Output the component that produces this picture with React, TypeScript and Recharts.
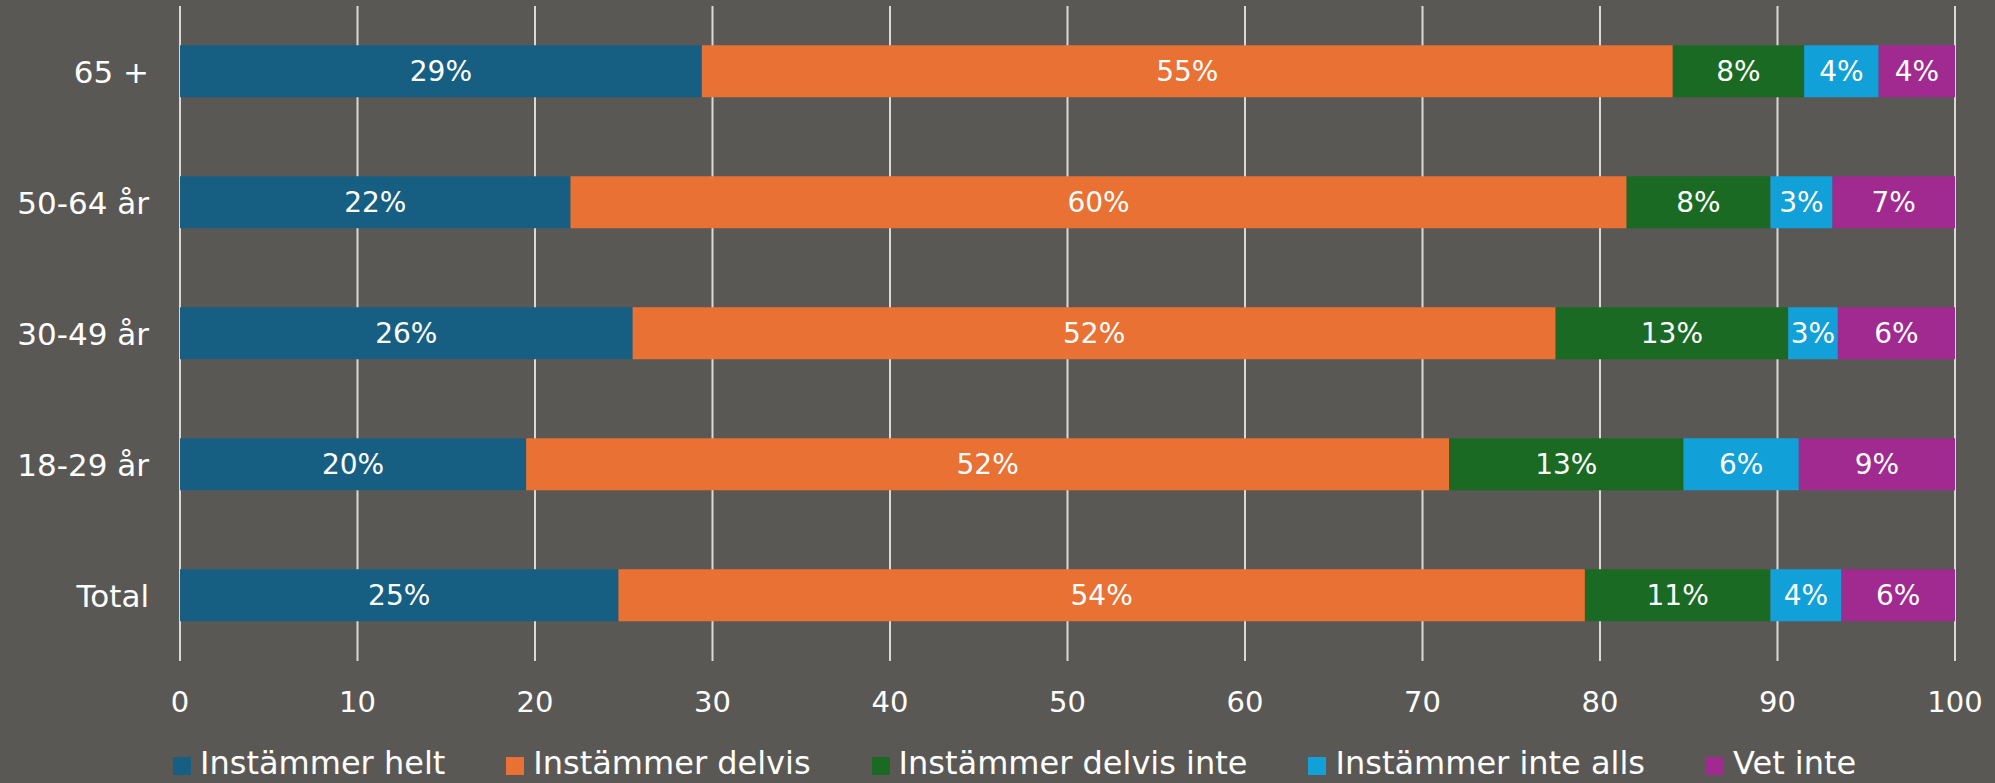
import { Bar, BarChart, CartesianGrid, LabelList, Legend, XAxis, YAxis } from "recharts";

const categories = ["65 +", "50-64 år", "30-49 år", "18-29 år", "Total"];

// bar lengths (they add up to 100 per row)
const heltValues = [29.4, 22.0, 25.5, 19.5, 24.7];
const delvisValues = [54.7, 59.5, 52.0, 52.0, 54.45];
const delvisInteValues = [7.4, 8.1, 13.1, 13.2, 10.45];
const inteAllsValues = [4.2, 3.5, 2.8, 6.5, 4.0];
const vetInteValues = [4.3, 6.9, 6.6, 8.8, 6.4];

// printed labels
const heltLabels = ["29%", "22%", "26%", "20%", "25%"];
const delvisLabels = ["55%", "60%", "52%", "52%", "54%"];
const delvisInteLabels = ["8%", "8%", "13%", "13%", "11%"];
const inteAllsLabels = ["4%", "3%", "3%", "6%", "4%"];
const vetInteLabels = ["4%", "7%", "6%", "9%", "6%"];

const xTicks = [0, 10, 20, 30, 40, 50, 60, 70, 80, 90, 100];

const data = categories.map((name, i) => ({
  name,
  helt: heltValues[i],
  heltLabel: heltLabels[i],
  delvis: delvisValues[i],
  delvisLabel: delvisLabels[i],
  delvisInte: delvisInteValues[i],
  delvisInteLabel: delvisInteLabels[i],
  inteAlls: inteAllsValues[i],
  inteAllsLabel: inteAllsLabels[i],
  vetInte: vetInteValues[i],
  vetInteLabel: vetInteLabels[i],
}));

const series = [
  { key: "helt", name: "Instämmer helt", color: "#175f82" },
  { key: "delvis", name: "Instämmer delvis", color: "#e87133" },
  { key: "delvisInte", name: "Instämmer delvis inte", color: "#1b6a24" },
  { key: "inteAlls", name: "Instämmer inte alls", color: "#11a0d7" },
  { key: "vetInte", name: "Vet inte", color: "#a02a90" },
];

const FONT = "'DejaVu Sans', 'Noto Sans', sans-serif";

// legend in series order (recharts sorts the payload by name otherwise)
const renderLegend = () => (
  <div
    style={{
      height: 52,
      display: "flex",
      alignItems: "center",
      paddingLeft: 173,
      paddingTop: 12,
      boxSizing: "border-box",
      gap: 61,
      fontFamily: FONT,
      fontSize: 32,
      color: "#ffffff",
      whiteSpace: "nowrap",
    }}
  >
    {series.map((s) => (
      <span key={s.key} style={{ display: "flex", alignItems: "center" }}>
        <span
          style={{
            display: "inline-block",
            width: 18,
            height: 18,
            background: s.color,
            marginRight: 9,
            marginTop: 6,
          }}
        />
        {s.name}
      </span>
    ))}
  </div>
);

export default function App() {
  return (
    <div
      style={{
        position: "fixed",
        left: 0,
        top: 0,
        width: 1995,
        height: 783,
        background: "#5a5855",
      }}
    >
      <BarChart
        width={1995}
        height={783}
        data={data}
        layout="vertical"
        barCategoryGap="30%"
        margin={{ top: 6, right: 40, left: 0, bottom: 0 }}
      >
        <CartesianGrid horizontal={false} stroke="#d9d9d9" strokeWidth={2} />
        <XAxis
          type="number"
          domain={[0, 100]}
          ticks={xTicks}
          interval={0}
          axisLine={false}
          tickLine={false}
          tickSize={0}
          tickMargin={30}
          height={70}
          tick={{ fill: "#ffffff", fontSize: 29, fontFamily: FONT }}
        />
        <YAxis
          type="category"
          dataKey="name"
          width={180}
          axisLine={false}
          tickLine={false}
          tickSize={0}
          tickMargin={31}
          tick={{ fill: "#ffffff", fontSize: 31, fontFamily: FONT }}
        />
        <Legend verticalAlign="bottom" content={renderLegend} />
        {series.map((s) => (
          <Bar
            key={s.key}
            dataKey={s.key}
            name={s.name}
            stackId="a"
            fill={s.color}
            isAnimationActive={false}
          >
            <LabelList
              dataKey={`${s.key}Label`}
              position="center"
              fill="#ffffff"
              fontSize={28}
              fontFamily={FONT}
            />
          </Bar>
        ))}
      </BarChart>
    </div>
  );
}
